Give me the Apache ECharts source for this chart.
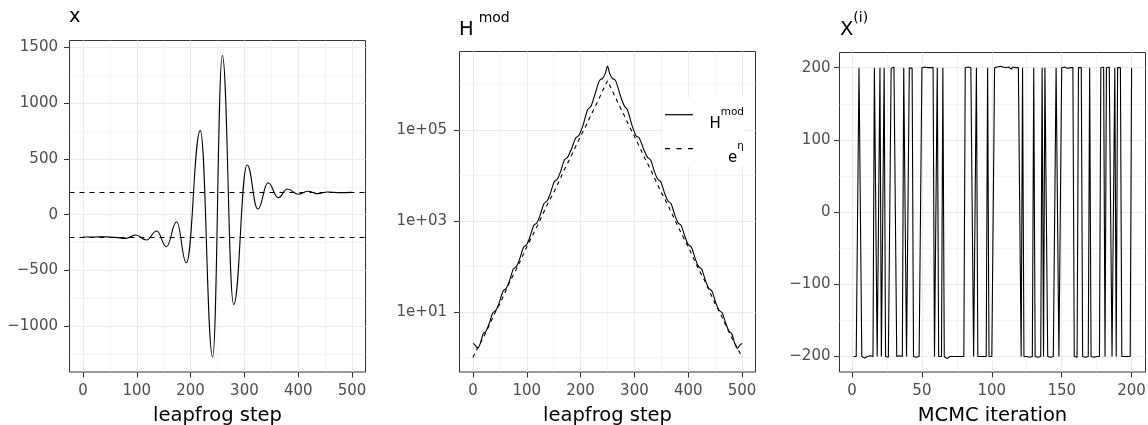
<!DOCTYPE html>
<html><head><meta charset="utf-8">
<script src="https://cdn.jsdelivr.net/npm/echarts@6/dist/echarts.min.js"></script>
<style>html,body{margin:0;padding:0;background:#fff}#c{width:1148px;height:425px}</style>
</head><body><div id="c"></div>
<script>
// ---------- Panel 1: x trajectory over leapfrog steps ----------
const leapSteps = [0, 20, 40, 60, 79, 98, 118, 137, 155, 174, 192, 218, 241, 259, 280, 305, 325, 344, 363, 380, 400, 418, 436, 455, 475, 500];
const xTrace    = [-200, -200, -198, -203, -212, -182, -227, -146, -287, -63, -431, 754, -1275, 1427, -804, 446, 51, 287, 153, 230, 183, 210, 189, 204, 198, 200];
const refLevels = [200, -200];

// ---------- Panel 2: H^mod and e^eta (log scale) ----------
const hSteps = [0,4,9,14,19,24,30,37,43,49,56,62,68,75,81,87,94,100,106,113,119,125,132,138,144,151,157,163,170,176,183,191,197,204,213,219,226,235,241,246,250,
                254,259,265,274,281,287,296,303,309,317,324,330,337,343,349,356,362,368,375,381,387,394,400,406,413,419,425,432,438,444,451,457,463,470,476,481,486,491,496,500];
const hMod = [2.04,1.86,1.58,2.09,3.31,3.72,5.5,9.55,11.0,16.2,28.8,33.1,49.0,87.1,100,148,263,302,447,794,912,1349,2399,2754,4074,7244,8318,12300,21880,25120,38020,66070,75860,120200,275400,323600,562300,1202000,1349000,1738000,2512000,
              1738000,1349000,1202000,562300,338800,275400,120200,74130,66070,38020,25120,21880,12300,8318,7244,4074,2754,2399,1349,912,794,447,302,263,148,100,87.1,49.0,33.1,28.8,16.2,11.0,9.55,5.5,3.72,3.31,2.09,1.58,1.86,2.04];
const etaSteps = [0,10,20,30,40,50,60,70,80,90,100,110,120,130,140,150,160,170,180,190,200,210,220,230,240,250,
                  260,270,280,290,300,310,320,330,340,350,360,370,380,390,400,410,420,430,440,450,460,470,480,490,500];
const expEta = [1.0,1.74,2.82,5.01,9.12,15.1,27.5,50.1,83.2,148,269,457,794,1413,2512,4169,7413,13490,22910,40740,72440,123000,218800,380200,676100,1202000,
                676100,380200,218800,123000,72440,40740,22910,13490,7413,4169,2512,1413,794,457,269,148,83.2,50.1,27.5,15.1,9.12,5.01,2.82,1.74,1.0];

// ---------- Panel 3: MCMC chain ----------
const xChain = [
 -200,-199,-200,-200,200,200,-200,-201,-202,-201,-200,-201,-199,-200,-200,200,200,-200,-201,200,
 -200,-200,200,-200,-200,-201,-200,199,200,201,200,-200,-200,-199,-200,-200,200,200,-200,-201,
 200,200,199,-200,-200,-201,-200,-200,-199,200,201,201,200,200,199,200,200,200,-200,-200,
 200,-200,-200,-200,200,-200,-201,-203,-201,-200,-201,-200,-200,-200,-199,-200,-200,-200,-200,-200,
 200,200,201,200,200,200,-200,-200,200,-200,-201,-200,-200,-200,-201,-200,200,-200,-200,-200,
 -200,200,201,201,201,202,201,201,200,200,201,201,200,198,201,200,200,201,200,200,
 -200,200,-200,-200,-200,-200,-201,-200,-200,200,-200,-200,-201,-200,-200,200,-200,200,200,-200,
 -200,-201,-200,-200,-200,200,200,-200,-200,200,200,201,200,199,200,200,200,200,-200,-200,
 -201,200,200,200,-200,-200,-201,-200,-200,200,-200,-200,-201,-200,-200,-200,-200,200,200,201,
 -200,200,200,201,200,-200,-200,200,-200,200,200,200,-200,-200,-200,-201,-200,-200,-200,200];
const iterations = xChain.map((_, i) => i + 1);

// ---------- Ticks / gridlines ----------
const stepTicks = [0, 100, 200, 300, 400, 500];
const stepMinor = [50, 150, 250, 350, 450];
const p1YTicks = [-1000, -500, 0, 500, 1000, 1500];
const p1YMinor = [-1250, -750, -250, 250, 750, 1250];
const p2YTicks = [10, 1000, 100000];
const p2YMinor = [1, 100, 10000, 1000000];
const iterTicks = [0, 50, 100, 150, 200];
const iterMinor = [25, 75, 125, 175];
const p3YTicks = [-200, -100, 0, 100, 200];
const p3YMinor = [-150, -50, 50, 150];

const FONT = '"DejaVu Sans", "Liberation Sans", Arial, sans-serif';
const TICK_COL = '#333333';
const LABEL_COL = '#4D4D4D';
const GRID_COL = '#EBEBEB';
const minusFmt = v => String(v).replace('-', '\u2212');
const sciFmt = v => { const e = Math.round(Math.log10(v)); return '1e+' + String(e).padStart(2, '0'); };

function mainAxis(dim, grid, type, min, max, ticks, fmt, margin, name) {
  const a = {
    type, gridIndex: grid, min, max, position: dim === 'x' ? 'bottom' : 'left',
    axisLine: { show: false, onZero: false },
    axisTick: { show: true, length: 5.5, lineStyle: { color: TICK_COL, width: 1.07 }, customValues: ticks },
    axisLabel: { show: true, customValues: ticks, color: LABEL_COL, fontSize: 15, fontFamily: FONT, margin, formatter: fmt },
    splitLine: { show: true, lineStyle: { color: GRID_COL, width: 1.07 } },
    minorTick: { show: false }, minorSplitLine: { show: false }
  };
  if (type === 'log') a.logBase = 10;
  if (name) {
    a.name = name; a.nameLocation = 'middle'; a.nameGap = 34;
    a.nameTextStyle = { fontSize: 19.5, color: '#000', fontFamily: FONT };
  }
  return a;
}
function minorAxis(dim, grid, type, min, max, ticks) {
  const a = {
    type, gridIndex: grid, min, max,
    axisLine: { show: false, onZero: false },
    axisTick: { show: false, customValues: ticks },
    axisLabel: { show: false, customValues: ticks },
    splitLine: { show: true, lineStyle: { color: GRID_COL, width: 0.55 } }
  };
  if (type === 'log') a.logBase = 10;
  return a;
}

const grids = [
  { left: 69.5, top: 40.5, width: 296, height: 331.5 },
  { left: 459.5, top: 51.5, width: 296, height: 320.5 },
  { left: 839.5, top: 52.5, width: 306, height: 319.5 }
].map(g => Object.assign(g, {
  show: true, borderColor: '#333333', borderWidth: 1, backgroundColor: 'transparent',
  containLabel: false, outerBoundsMode: 'none'
}));

const logMin = Math.pow(10, -0.32), logMax = Math.pow(10, 6.72);

const xAxes = [
  minorAxis('x', 0, 'value', -25, 525, stepMinor),
  mainAxis('x', 0, 'value', -25, 525, stepTicks, minusFmt, 12, 'leapfrog step'),
  minorAxis('x', 1, 'value', -25, 525, stepMinor),
  mainAxis('x', 1, 'value', -25, 525, stepTicks, minusFmt, 12, 'leapfrog step'),
  minorAxis('x', 2, 'value', -8.95, 209.95, iterMinor),
  mainAxis('x', 2, 'value', -8.95, 209.95, iterTicks, minusFmt, 12, 'MCMC iteration')
];
const yAxes = [
  minorAxis('y', 0, 'value', -1410, 1562, p1YMinor),
  mainAxis('y', 0, 'value', -1410, 1562, p1YTicks, minusFmt, 11.5),
  minorAxis('y', 1, 'log', logMin, logMax, p2YMinor),
  mainAxis('y', 1, 'log', logMin, logMax, p2YTicks, sciFmt, 12.5),
  minorAxis('y', 2, 'value', -221.5, 221, p3YMinor),
  mainAxis('y', 2, 'value', -221.5, 221, p3YTicks, minusFmt, 9)
];

const titleRich = {
  m: { fontSize: 19.5, lineHeight: 28.5, verticalAlign: 'bottom', fontWeight: 'normal', color: '#000', fontFamily: FONT },
  s: { fontSize: 14, lineHeight: 10, verticalAlign: 'top', fontWeight: 'normal', color: '#000', fontFamily: FONT },
  sp: { fontSize: 14, lineHeight: 10, verticalAlign: 'top', fontWeight: 'normal', color: '#000', fontFamily: FONT, padding: [0, 0, 0, 5] }
};

const legendSolid = 'path://M0,0H28V1.2H0Z';
const legendDashed = 'path://M0,0H5V1.2H0ZM11.5,0H16.5V1.2H11.5ZM23,0H28V1.2H23Z';

const option = {
  animation: false,
  backgroundColor: '#ffffff',
  textStyle: { fontFamily: FONT },
  title: [
    { text: 'x', left: 69, top: 7, padding: 0, textStyle: { fontSize: 19.5, lineHeight: 20, fontWeight: 'normal', color: '#000', fontFamily: FONT } },
    { text: '{m|H}{sp|mod}', left: 459, top: 11.5, padding: 0, textStyle: { fontWeight: 'normal', rich: titleRich } },
    { text: '{m|X}{s|(i)}', left: 840, top: 11, padding: 0, textStyle: { fontWeight: 'normal', rich: titleRich } }
  ],
  legend: {
    data: [{ name: 'Hmod', icon: legendSolid }, { name: 'eta', icon: legendDashed }],
    orient: 'vertical', left: 662, top: 97,
    padding: [1, 1, 1.6, 3], itemGap: 0.6, itemWidth: 28, itemHeight: 1.2,
    backgroundColor: '#ffffff', selectedMode: false,
    formatter: n => n === 'Hmod' ? '{m|H}{s|mod}' : '{m|e}{s|\u03B7}',
    textStyle: {
      width: 46,
      rich: {
        m: { fontSize: 15, lineHeight: 33.4, verticalAlign: 'bottom', align: 'right', color: '#000', fontFamily: FONT },
        s: { fontSize: 10.5, lineHeight: 10.5, verticalAlign: 'top', align: 'right', padding: [9, 0, 0, 0], color: '#000', fontFamily: FONT }
      }
    }
  },
  grid: grids,
  xAxis: xAxes,
  yAxis: yAxes,
  series: [
    {
      type: 'line', name: 'x', xAxisIndex: 1, yAxisIndex: 1,
      data: leapSteps.map((s, i) => [s, xTrace[i]]),
      smooth: 0.45, smoothMonotone: 'x', symbol: 'none',
      lineStyle: { color: '#000', width: 1.1 },
      markLine: {
        silent: true, symbol: 'none', label: { show: false },
        lineStyle: { color: '#000', width: 1.1, type: [5, 5] },
        data: refLevels.map(v => ({ yAxis: v }))
      }
    },
    {
      type: 'line', name: 'Hmod', xAxisIndex: 3, yAxisIndex: 3,
      data: hSteps.map((s, i) => [s, hMod[i]]),
      smooth: 0.3, symbol: 'none', color: '#000',
      lineStyle: { color: '#000', width: 1.1 }
    },
    {
      type: 'line', name: 'eta', xAxisIndex: 3, yAxisIndex: 3,
      data: etaSteps.map((s, i) => [s, expEta[i]]),
      smooth: false, symbol: 'none', color: '#000',
      lineStyle: { color: '#000', width: 1.1, type: [4, 4] }
    },
    {
      type: 'line', name: 'chain', xAxisIndex: 5, yAxisIndex: 5,
      data: iterations.map((s, i) => [s, xChain[i]]),
      symbol: 'none', lineStyle: { color: '#000', width: 1.1 }
    }
  ]
};

const chart = echarts.init(document.getElementById('c'));
chart.setOption(option);
</script>
</body></html>
